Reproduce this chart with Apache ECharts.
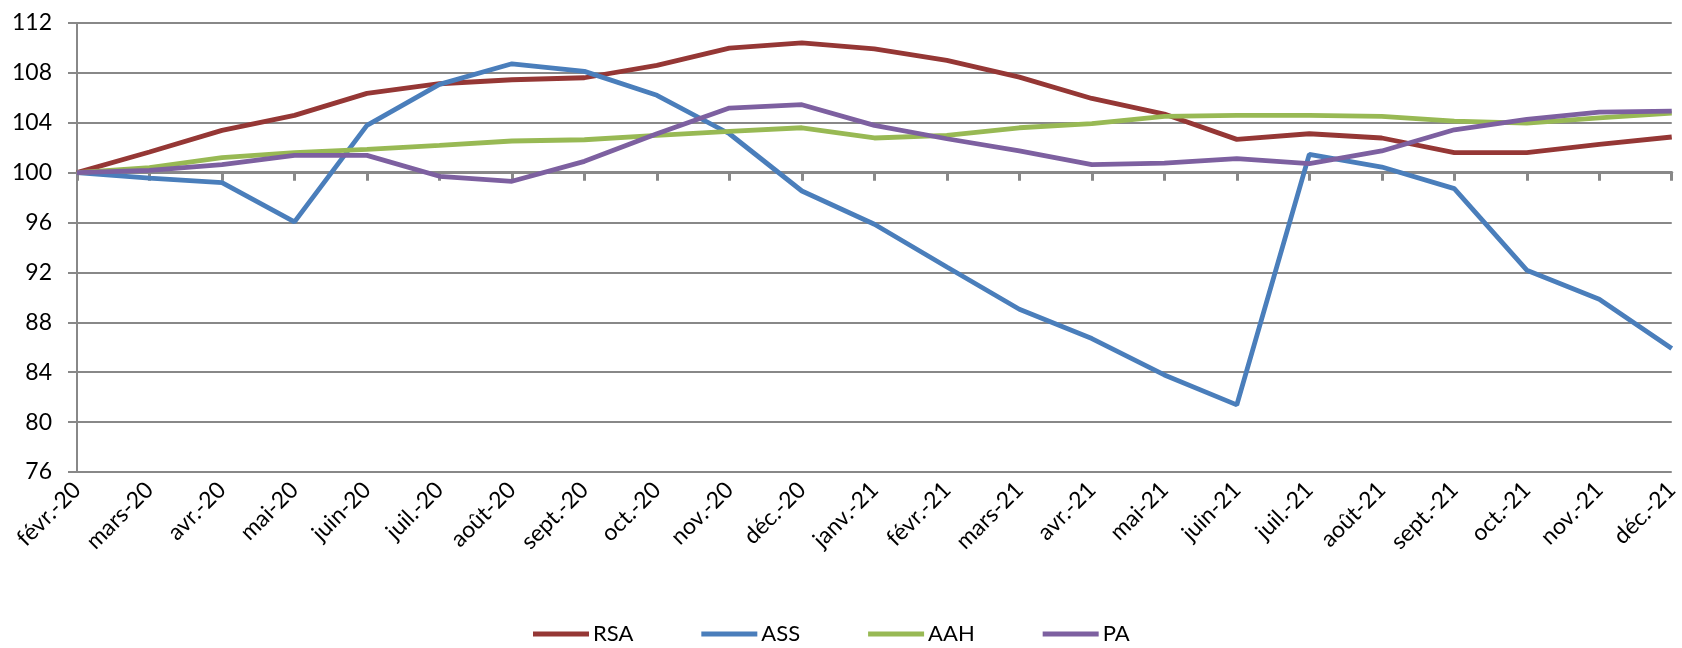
<!DOCTYPE html>
<html>
<head>
<meta charset="utf-8">
<script src="https://cdn.jsdelivr.net/npm/echarts@6/dist/echarts.min.js"></script>
<style>
html,body{margin:0;padding:0;background:#fff;}
#c{width:1682px;height:648px;}
</style>
</head>
<body>
<div id="c"></div>
<script>
const categories = ['févr.-20','mars-20','avr.-20','mai-20','juin-20','juil.-20','août-20','sept.-20','oct.-20','nov.-20','déc.-20','janv.-21','févr.-21','mars-21','avr.-21','mai-21','juin-21','juil.-21','août-21','sept.-21','oct.-21','nov.-21','déc.-21'];
const RSA = [100,101.66,103.39,104.59,106.36,107.13,107.45,107.61,108.6,109.99,110.41,109.93,109.0,107.66,105.95,104.7,102.67,103.12,102.78,101.6,101.6,102.27,102.86];
const ASS = [100,99.57,99.2,96.05,103.79,107.08,108.73,108.12,106.2,103.12,98.53,95.86,92.44,89.05,86.7,83.78,81.38,101.47,100.45,98.72,92.18,89.85,85.9];
const AAH = [100,100.4,101.2,101.6,101.87,102.19,102.54,102.64,102.99,103.31,103.6,102.78,102.99,103.6,103.93,104.51,104.59,104.59,104.51,104.14,103.98,104.4,104.78];
const PA  = [100,100.19,100.64,101.39,101.39,99.71,99.31,100.91,103.12,105.18,105.45,103.79,102.72,101.74,100.64,100.77,101.12,100.72,101.74,103.44,104.27,104.86,104.94];
const yTicks = [76,80,84,88,92,96,100,104,108,112];

const colors = {RSA:'#953735', ASS:'#4a7ebb', AAH:'#98b954', PA:'#7d60a0'};
const font = 'Lato, "Open Sans", sans-serif';
const gridTop = 23, gridBottom = 176;
const gridH = 648 - gridTop - gridBottom;
const yMin = yTicks[0], yMax = yTicks[yTicks.length-1];
const crossOffset = -gridH * (100 - yMin) / (yMax - yMin);

const chart = echarts.init(document.getElementById('c'));
function line(name, data){
  return {name, type:'line', data, showSymbol:false, symbol:'none',
    lineStyle:{width:4.8, color:colors[name]}, itemStyle:{color:colors[name]}, z:3};
}
chart.setOption({
  animation:false,
  backgroundColor:'#ffffff',
  grid:{left:77, right:4, top:gridTop, bottom:gridBottom, containLabel:false},
  xAxis:[{
    type:'category', data:categories, boundaryGap:false,
    axisLine:{show:false}, axisTick:{show:false},
    axisLabel:{rotate:45, fontSize:23, color:'#000', fontFamily:font, margin:14, interval:0}
  },{
    type:'category', data:categories, boundaryGap:false, position:'bottom', offset:crossOffset,
    axisLine:{show:true, lineStyle:{color:'#888888', width:3}},
    axisTick:{show:true, length:8, inside:false, interval:0, lineStyle:{color:'#888888', width:3}},
    axisLabel:{show:false}
  }],
  yAxis:{
    type:'value', min:yMin, max:yMax, interval:4,
    axisLine:{show:true, lineStyle:{color:'#888888', width:2}},
    axisTick:{show:true, length:9, lineStyle:{color:'#888888', width:2}},
    splitLine:{show:true, lineStyle:{color:'#888888', width:2}},
    axisLabel:{fontSize:23, color:'#000', fontFamily:font, margin:25}
  },
  legend:{
    top:618, left:528, itemWidth:56, itemHeight:5, itemGap:68,
    icon:'rect',
    textStyle:{fontSize:22, color:'#000', fontFamily:font, padding:[0,0,0,-1]},
    data:['RSA','ASS','AAH','PA']
  },
  series:[line('RSA',RSA), line('ASS',ASS), line('AAH',AAH), line('PA',PA)]
});
</script>
</body>
</html>
